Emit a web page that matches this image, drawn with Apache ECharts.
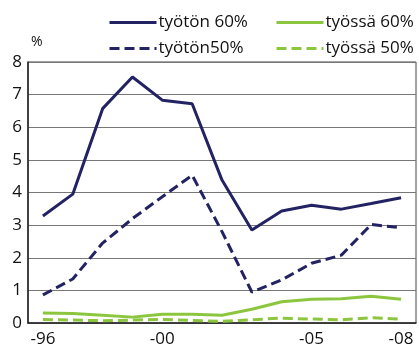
<!DOCTYPE html>
<html>
<head>
<meta charset="utf-8">
<script src="https://cdn.jsdelivr.net/npm/echarts@6/dist/echarts.min.js"></script>
<style>
  html, body { margin: 0; padding: 0; background: #fff; }
  #chart { width: 419px; height: 351px; }
</style>
</head>
<body>
<div id="chart"></div>
<script>
// vuodet 1996-2008
var years = ['-96', '-97', '-98', '-99', '-00', '-01', '-02', '-03', '-04', '-05', '-06', '-07', '-08']
var shownLabels = [0, 4, 9, 12]
var tyoton60 = [3.28, 3.95, 6.57, 7.54, 6.83, 6.72, 4.38, 2.85, 3.43, 3.61, 3.49, 3.66, 3.84]
var tyoton50 = [0.86, 1.35, 2.45, 3.2, 3.87, 4.53, 2.8, 0.95, 1.32, 1.83, 2.08, 3.02, 2.92]
var tyossa60 = [0.31, 0.29, 0.24, 0.18, 0.27, 0.27, 0.24, 0.42, 0.65, 0.73, 0.74, 0.82, 0.73]
var tyossa50 = [0.11, 0.09, 0.07, 0.09, 0.11, 0.08, 0.05, 0.10, 0.15, 0.12, 0.10, 0.16, 0.12]

var navy = '#232262'
var green = '#8cc63e'
var font = '"Open Sans", "Noto Sans", sans-serif'

function legendAt(name, left, top) {
  return {
    data: [name],
    left: left,
    top: top,
    itemWidth: 47,
    itemHeight: 14,
    itemGap: 0,
    selectedMode: false,
    itemStyle: { opacity: 0 },
    lineStyle: { width: 3 },
    textStyle: { fontFamily: font, fontSize: 17, color: '#111', padding: [0, 0, 0, -3] }
  }
}

var myChart = echarts.init(document.getElementById('chart'))
myChart.setOption({
  backgroundColor: '#fff',
  animation: false,
  legend: [
    legendAt('työtön 60%', 103, 9),
    legendAt('työssä 60%', 270, 9),
    legendAt('työtön50%', 103, 35),
    legendAt('työssä 50%', 270, 35)
  ],
  grid: {
    left: 28,
    right: 3,
    top: 62,
    bottom: 28,
    show: true,
    borderColor: '#444',
    borderWidth: 1
  },
  graphic: [
    {
      type: 'text',
      left: 31,
      top: 35,
      style: { text: '%', fontFamily: font, fontSize: 14, fill: '#111' }
    }
  ],
  xAxis: {
    type: 'category',
    data: years,
    boundaryGap: true,
    axisLine: { lineStyle: { color: '#222', width: 1.5 } },
    axisTick: {
      alignWithLabel: true,
      interval: 0,
      length: 6,
      lineStyle: { color: '#222', width: 1.2 }
    },
    axisLabel: {
      interval: function (index) {
        return shownLabels.indexOf(index) !== -1
      },
      margin: 8,
      fontFamily: font,
      fontSize: 17,
      color: '#111'
    }
  },
  yAxis: {
    type: 'value',
    min: 0,
    max: 8,
    interval: 1,
    axisLine: { show: true, lineStyle: { color: '#222', width: 1.5 } },
    axisTick: { show: false },
    splitLine: { lineStyle: { color: '#777', width: 1 } },
    axisLabel: { margin: 6, fontFamily: font, fontSize: 17, color: '#111' }
  },
  series: [
    {
      name: 'työtön 60%',
      type: 'line',
      data: tyoton60,
      symbol: 'none',
      lineStyle: { color: navy, width: 3 },
      itemStyle: { color: navy }
    },
    {
      name: 'työssä 60%',
      type: 'line',
      data: tyossa60,
      symbol: 'none',
      lineStyle: { color: green, width: 3 },
      itemStyle: { color: green }
    },
    {
      name: 'työtön50%',
      type: 'line',
      data: tyoton50,
      symbol: 'none',
      lineStyle: { color: navy, width: 3, type: [10, 5] },
      itemStyle: { color: navy }
    },
    {
      name: 'työssä 50%',
      type: 'line',
      data: tyossa50,
      symbol: 'none',
      lineStyle: { color: green, width: 3, type: [10, 5] },
      itemStyle: { color: green }
    }
  ]
})
</script>
</body>
</html>
